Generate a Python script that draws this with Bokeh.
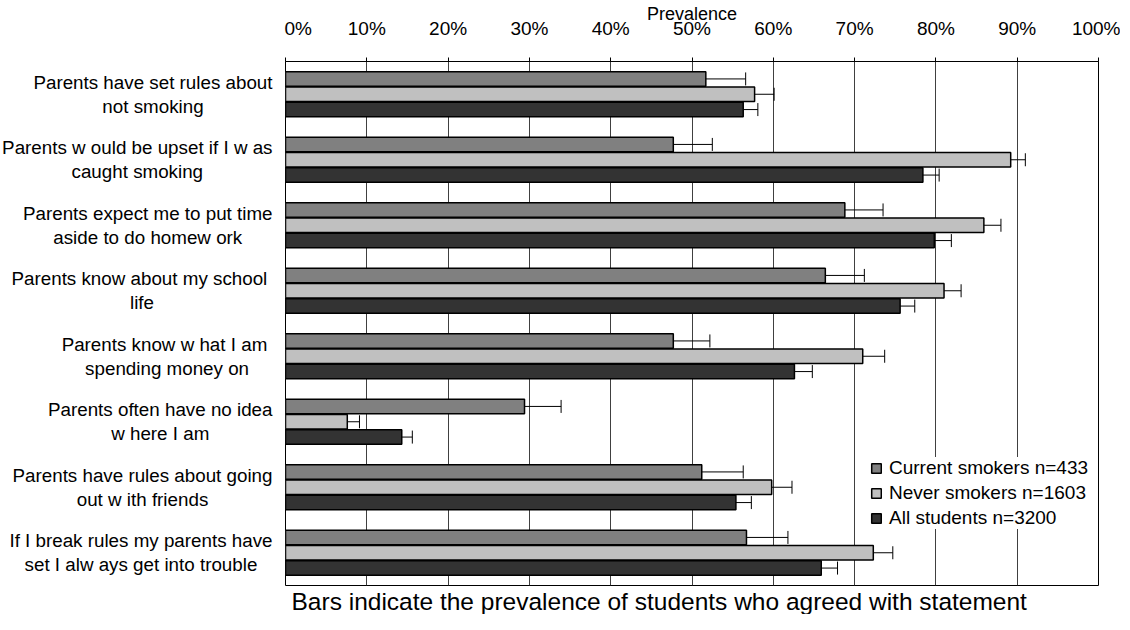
from bokeh.plotting import figure
from bokeh.layouts import row
from bokeh.models import (ColumnDataSource, Whisker, Range1d, FixedTicker, Title,
                          Legend, LegendItem, TeeHead)
from bokeh.core.properties import value
from bokeh.embed import file_html
from bokeh.resources import INLINE

# ---------------- data ----------------
statements = [
    "Parents have set rules about\nnot smoking",
    "Parents w ould be upset if I w as\ncaught smoking",
    "Parents expect me to put time\naside to do homew ork",
    "Parents know  about my school\nlife",
    "Parents know  w hat I am\nspending money on",
    "Parents often have no idea\nw here I am",
    "Parents have rules about going\nout w ith friends",
    "If I break rules my parents have\nset I alw ays get into trouble",
]

series_names = ["Current smokers n=433", "Never smokers n=1603", "All students n=3200"]
series_colors = ["#808080", "#c0c0c0", "#333333"]

current_smokers = [51.7, 47.7, 68.8, 66.4, 47.7, 29.4, 51.2, 56.7]
current_smokers_err = [4.9, 4.8, 4.7, 4.8, 4.5, 4.5, 5.1, 5.1]
never_smokers = [57.7, 89.2, 85.9, 81.0, 71.0, 7.6, 59.8, 72.3]
never_smokers_err = [2.4, 1.8, 2.1, 2.1, 2.7, 1.5, 2.5, 2.4]
all_students = [56.3, 78.4, 79.8, 75.6, 62.6, 14.3, 55.4, 65.9]
all_students_err = [1.8, 2.0, 2.1, 1.8, 2.2, 1.3, 1.9, 2.0]

tick_values = [0, 10, 20, 30, 40, 50, 60, 70, 80, 90, 100]
tick_labels = ["0%", "10%", "20%", "30%", "40%", "50%", "60%", "70%", "80%", "90%", "100%"]

axis_title = "Prevalence"
footnote = "Bars indicate the prevalence of students who agreed with statement"

FONT = "Liberation Sans"
TOP, BOTTOM, H = 55, 28, 614
LEFT_W, MAIN_W = 284, 836

# ---------------- main figure ----------------
n = len(statements)
yr = Range1d(n, 0)
p = figure(width=MAIN_W, height=H,
           x_range=Range1d(0, 100), y_range=yr,
           x_axis_location="above",
           output_backend="svg", toolbar_location=None,
           min_border_left=1, min_border_right=22,
           min_border_top=TOP, min_border_bottom=BOTTOM)
p.background_fill_color = "white"
p.border_fill_color = "white"
p.outline_line_color = "black"
p.outline_line_width = 1

p.yaxis.visible = False
ax = p.xaxis[0]
ax.ticker = FixedTicker(ticks=tick_values)
ax.major_label_overrides = {v: l for v, l in zip(tick_values, tick_labels)}
ax.major_label_text_font = FONT
ax.major_label_text_font_size = "19px"
ax.major_label_text_color = "black"
ax.major_tick_out = 4
ax.major_tick_in = 0
ax.minor_tick_line_color = None
ax.major_tick_line_color = "black"
ax.axis_line_color = "black"
ax.major_label_standoff = 19
ax.axis_label = axis_title
ax.axis_label_text_font = FONT
ax.axis_label_text_font_size = "18px"
ax.axis_label_text_font_style = "normal"
ax.axis_label_text_color = "black"
ax.axis_label_standoff = -9

p.xgrid.grid_line_color = "#404040"
p.xgrid.grid_line_width = 1
p.ygrid.visible = False

offsets = [-0.234, 0.0, 0.234]
vals = [current_smokers, never_smokers, all_students]
errs = [current_smokers_err, never_smokers_err, all_students_err]

items = []
for k in range(3):
    ys = [i + 0.5 + offsets[k] for i in range(n)]
    src = ColumnDataSource(dict(
        y=ys, right=vals[k],
        lower=[v - e for v, e in zip(vals[k], errs[k])],
        upper=[v + e for v, e in zip(vals[k], errs[k])],
    ))
    r = p.hbar(y="y", left=0, right="right", height=0.22, source=src,
               fill_color=series_colors[k], line_color="black", line_width=1.5)
    w = Whisker(source=src, base="y", lower="lower", upper="upper", dimension="width",
                line_color="black", line_width=1,
                upper_head=TeeHead(size=13, line_color="black", line_width=1),
                lower_head=TeeHead(size=13, line_color="black", line_width=1))
    p.add_layout(w)
    items.append(LegendItem(label=series_names[k], renderers=[r]))

legend = Legend(items=items, location=(585, 56),
                glyph_width=12, glyph_height=12, label_text_font=FONT,
                label_text_font_size="19px", label_text_color="black",
                label_standoff=7, label_height=20,
                spacing=3, padding=10, margin=0,
                border_line_color=None, background_fill_color="white",
                background_fill_alpha=1.0)
p.add_layout(legend)

p.add_layout(Title(text=footnote, align="left", offset=6, standoff=0,
                   text_font=FONT, text_font_size="24.5px", text_font_style="normal",
                   text_color="black"), "below")

# ---------------- category label panel ----------------
lp = figure(width=LEFT_W, height=H, x_range=Range1d(0, LEFT_W), y_range=yr,
            output_backend="svg", toolbar_location=None,
            min_border_left=0, min_border_right=0,
            min_border_top=TOP, min_border_bottom=BOTTOM)
lp.axis.visible = False
lp.grid.visible = False
lp.outline_line_color = None
lp.background_fill_color = "white"
lp.border_fill_color = "white"

lsrc = ColumnDataSource(dict(x=[LEFT_W - 12] * n, y=[i + 0.5 for i in range(n)],
                             text=statements))
lp.text(x="x", y="y", text="text", source=lsrc,
        anchor=value("center_right"), text_align=value("center"),
        text_baseline=value("middle"),
        text_font=value(FONT), text_font_size=value("18.8px"),
        text_line_height=1.15, text_color="black")

layout = row(lp, p)
open("out.html", "w").write(file_html(layout, INLINE))
